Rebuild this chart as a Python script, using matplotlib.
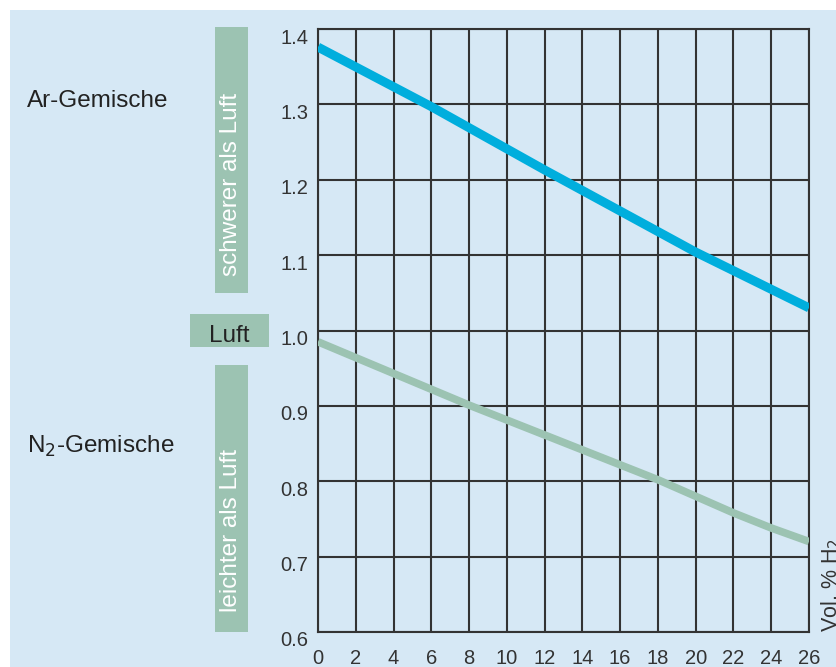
import matplotlib
matplotlib.use("Agg")
import matplotlib.pyplot as plt
from matplotlib.patches import Rectangle
from matplotlib.transforms import ScaledTranslation

plt.rcParams['font.family'] = ['Liberation Sans', 'DejaVu Sans']

# Data
h2_vol = [0, 6, 12, 20, 26]
ar_density = [1.376, 1.297, 1.213, 1.104, 1.030]
n2_h2_vol = [0, 8, 18, 22, 24, 26]
n2_density = [0.985, 0.901, 0.802, 0.758, 0.738, 0.720]
x_ticks = list(range(0, 27, 2))
y_ticks = [0.6, 0.7, 0.8, 0.9, 1.0, 1.1, 1.2, 1.3, 1.4]

BG = '#d6e8f5'
GREEN = '#9cc3b2'
CYAN = '#00aedd'
TXT = '#333333'
DARK = '#222222'

W, H = 837, 667
fig = plt.figure(figsize=(W/100, H/100), dpi=100)
fig.patch.set_facecolor('white')
fig.patches.append(Rectangle((10/W, 0), 1, 1 - 10/H, transform=fig.transFigure,
                             facecolor=BG, edgecolor='none', zorder=-10))

ax = fig.add_axes([318/W, 1 - 632/H, (809-318)/W, (632-29)/H])
ax.set_facecolor(BG)
ax.set_xlim(0, 26)
ax.set_ylim(0.6, 1.4)
ax.set_xticks(x_ticks)
ax.set_yticks(y_ticks)
ax.set_xticklabels([str(t) for t in x_ticks])
ax.set_yticklabels([f"{t:.1f}" for t in y_ticks])
ax.grid(True, color='#333333', linewidth=1.5)
ax.set_axisbelow(True)
for s in ax.spines.values():
    s.set_color('#333333')
    s.set_linewidth(1.5)
ax.tick_params(axis='both', length=0, labelsize=14.5, colors=TXT)
ax.tick_params(axis='x', pad=12)
ax.tick_params(axis='y', pad=7)
offset = ScaledTranslation(0, -7/100, fig.dpi_scale_trans)
for lab in ax.get_yticklabels():
    lab.set_transform(lab.get_transform() + offset)

ax.plot(h2_vol, ar_density, color=CYAN, linewidth=6.5, solid_capstyle='butt', zorder=3)
ax.plot(n2_h2_vol, n2_density, color=GREEN, linewidth=5.5, solid_capstyle='butt', zorder=3)

# Side annotations
def fig_rect(x0, y0, x1, y1, color):
    fig.patches.append(Rectangle((x0/W, 1 - y1/H), (x1-x0)/W, (y1-y0)/H,
                                 transform=fig.transFigure, facecolor=color,
                                 edgecolor='none'))

fig_rect(215, 27, 248, 293, GREEN)
fig_rect(190, 314, 269, 347, GREEN)
fig_rect(215, 365, 248, 632, GREEN)

FS = 17.5
fig.text(231/W, 1 - 184/H, 'schwerer als Luft', rotation=90, ha='center',
         va='center', color='white', fontsize=FS)
fig.text(231/W, 1 - 531/H, 'leichter als Luft', rotation=90, ha='center',
         va='center', color='white', fontsize=FS)
fig.text(229/W, 1 - 342/H, 'Luft', ha='center', va='baseline', color=DARK,
         fontsize=FS)

fig.text(27/W, 1 - 107/H, 'Ar-Gemische', ha='left', va='baseline', color=DARK,
         fontsize=FS)
fig.text(27/W, 1 - 453/H, 'N$_2$-Gemische', ha='left', va='baseline', color=DARK,
         fontsize=FS)

fig.text(819/W, 1 - 632/H, 'Vol. % H$_2$', rotation=90, ha='left', va='bottom',
         color=TXT, fontsize=15.5)

fig.savefig('out.png', dpi=100, facecolor=fig.get_facecolor())
